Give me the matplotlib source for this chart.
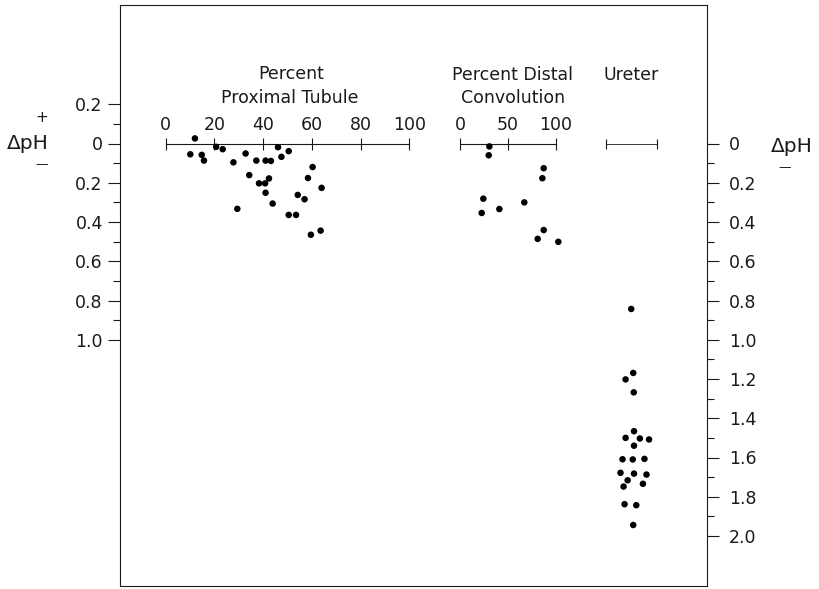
import matplotlib
matplotlib.use("Agg")
import matplotlib.pyplot as plt
from matplotlib.ticker import FixedLocator

plt.rcParams['font.family'] = ['DejaVu Sans']

# ---- data (ΔpH: positive = fall in pH, plotted downward) ----
prox_pct = [12.0, 10.1, 14.8, 15.7, 20.7, 23.4, 27.8, 32.8, 34.3, 37.2,
            38.3, 40.8, 41.0, 43.2, 42.4, 41.0, 43.9, 29.4, 46.1, 47.5,
            50.5, 50.5, 53.5, 54.2, 57.0, 58.4, 60.3, 64.0, 59.6, 63.6]
prox_dph = [-0.026, 0.055, 0.058, 0.087, 0.017, 0.029, 0.096, 0.051, 0.161, 0.087,
            0.203, 0.203, 0.087, 0.089, 0.178, 0.251, 0.306, 0.333, 0.019, 0.068,
            0.039, 0.364, 0.364, 0.262, 0.284, 0.176, 0.120, 0.226, 0.465, 0.444]

dist_pct = [30.6, 29.9, 87.2, 85.8, 24.3, 22.6, 41.0, 67.0, 87.2, 80.9, 102.4]
dist_dph = [0.015, 0.060, 0.126, 0.177, 0.281, 0.354, 0.334, 0.300, 0.441, 0.486, 0.501]

ureter_pos = [0.50, 0.54, 0.39, 0.55, 0.555, 0.39, 0.67, 0.85, 0.555, 0.33, 0.53,
              0.76, 0.29, 0.555, 0.80, 0.43, 0.35, 0.73, 0.37, 0.60, 0.54]
ureter_dph = [0.843, 1.169, 1.202, 1.268, 1.466, 1.500, 1.503, 1.508, 1.540, 1.609, 1.610,
              1.607, 1.678, 1.682, 1.687, 1.716, 1.748, 1.734, 1.838, 1.843, 1.944]

left_ticks = [-0.2, 0.0, 0.2, 0.4, 0.6, 0.8, 1.0]
left_minor = [-0.1, 0.1, 0.3, 0.5, 0.7, 0.9]
right_ticks = [0.0, 0.2, 0.4, 0.6, 0.8, 1.0, 1.2, 1.4, 1.6, 1.8, 2.0]
right_minor = [0.1, 0.3, 0.5, 0.7, 0.9, 1.1, 1.3, 1.5, 1.7, 1.9]
prox_ticks = [0, 20, 40, 60, 80, 100]
dist_ticks = [0, 50, 100]

# ---- layout ----
W, H = 819, 589
fig = plt.figure(figsize=(W / 100, H / 100), dpi=100)
INK = '#1a1a1a'
FS = 12.5

box_l, box_r, box_t, box_b = 120, 707, 5, 586
zero_px, px_per_unit = 143.5, 196.25
ylim = ((box_b - zero_px) / px_per_unit, (box_t - zero_px) / px_per_unit)


def fig_rect(x0, x1):
    return [x0 / W, 1 - box_b / H, (x1 - x0) / W, (box_b - box_t) / H]


ax = fig.add_axes(fig_rect(box_l, box_r))
ax.set_ylim(*ylim)
ax.set_xlim(0, 1)
ax.set_xticks([])
for s in ax.spines.values():
    s.set_color(INK)
    s.set_linewidth(0.8)
ax.yaxis.set_major_locator(FixedLocator(left_ticks))
ax.yaxis.set_minor_locator(FixedLocator(left_minor))
ax.set_yticklabels([f"{abs(v):.1f}" if v != 0 else "0" for v in left_ticks])
ax.tick_params(axis='y', which='major', direction='out', length=8.4, width=0.8,
               color=INK, labelsize=FS, pad=4.0, labelcolor=INK)
ax.tick_params(axis='y', which='minor', direction='out', length=5, width=0.8, color=INK)

axr = ax.twinx()
axr.set_ylim(*ylim)
axr.yaxis.set_major_locator(FixedLocator(right_ticks))
axr.yaxis.set_minor_locator(FixedLocator(right_minor))
axr.set_yticklabels([f"{v:.1f}" if v != 0 else "0" for v in right_ticks])
axr.tick_params(axis='y', which='major', direction='out', length=8.4, width=0.8,
                color=INK, labelsize=FS, pad=7.5, labelcolor=INK)
axr.tick_params(axis='y', which='minor', direction='out', length=5, width=0.8, color=INK)
for s in axr.spines.values():
    s.set_visible(False)


def sub_axes(x0, x1, xlim, ticks, labels, tick_len):
    a = fig.add_axes(fig_rect(x0, x1))
    a.set_ylim(*ylim)
    a.set_xlim(*xlim)
    a.patch.set_visible(False)
    a.yaxis.set_visible(False)
    for k in ('left', 'right', 'bottom'):
        a.spines[k].set_visible(False)
    a.spines['top'].set_position(('data', 0))
    a.spines['top'].set_color(INK)
    a.spines['top'].set_linewidth(0.8)
    a.xaxis.set_ticks_position('top')
    a.set_xticks(ticks)
    a.set_xticklabels(labels)
    a.tick_params(axis='x', direction='inout', length=tick_len, width=0.8, color=INK,
                  labelsize=FS, pad=2.3, labelcolor=INK)
    return a


MS = 22
ap = sub_axes(165.7, 409.3, (0, 100), prox_ticks, [str(t) for t in prox_ticks], 9)
ap.scatter(prox_pct, prox_dph, s=MS, color='black', edgecolors='none', clip_on=False, zorder=5)

ad = sub_axes(460, 556, (0, 100), dist_ticks, [str(t) for t in dist_ticks], 9)
ad.scatter(dist_pct, dist_dph, s=MS, color='black', edgecolors='none', clip_on=False, zorder=5)

au = sub_axes(605.7, 656.7, (0, 1), [0, 1], ['', ''], 7)
au.spines['top'].set_linewidth(0.6)
au.scatter(ureter_pos, ureter_dph, s=MS, color='black', edgecolors='none', clip_on=False, zorder=5)


def ftext(x, y, s, **kw):
    kw.setdefault('fontsize', FS)
    fig.text(x / W, 1 - y / H, s, ha='center', va='center', color=INK, **kw)


ftext(291, 74, "Percent")
ftext(290, 97.5, "Proximal Tubule")
ftext(513, 75, "Percent Distal")
ftext(513, 98, "Convolution")
ftext(631.5, 75, "Ureter")

ftext(27.5, 143.5, "ΔpH", fontsize=14.5)
ftext(41.7, 118, "+", fontsize=11)
ftext(42, 165, "—", fontsize=9)
ftext(792, 146, "ΔpH", fontsize=14.5)
ftext(785, 168, "—", fontsize=9)

fig.savefig("out.png", dpi=100)
